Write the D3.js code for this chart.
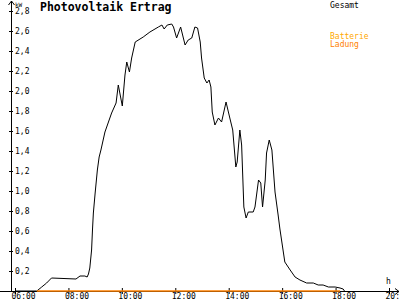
<!DOCTYPE html>
<html>
<head>
<meta charset="utf-8">
<script src="https://cdn.jsdelivr.net/npm/d3@7"></script>
<style>
  body { margin: 0; background: #fff; }
  text { font-family: "DejaVu Sans Mono", monospace; }
</style>
</head>
<body>
<div id="paper"></div>
<script>
// photovoltaik ertrag - tageskurve, gesamt + batterie ladung

const times = ["06:00","06:49","07:00","07:11","07:22","08:17","08:26","08:37","08:42","08:45","08:48","08:52","08:54","08:56","09:00","09:05","09:09","09:13","09:22","09:37","09:47","09:52","10:01","10:07","10:11","10:17","10:22","10:30","10:48","11:03","11:22","11:30","11:35","11:42","11:52","11:56","12:03","12:12","12:22","12:29","12:37","12:44","12:50","12:56","12:59","13:05","13:11","13:16","13:20","13:23","13:29","13:37","13:44","13:54","14:03","14:09","14:16","14:19","14:25","14:29","14:34","14:39","14:44","14:55","14:59","15:07","15:12","15:16","15:22","15:25","15:31","15:37","15:44","15:51","15:55","16:01","16:06","16:18","16:29","16:40","16:55","17:10","17:21","17:32","17:44","17:59","18:10","18:17","18:20"];
const gesamt = [0,0,0.04,0.08,0.13,0.12,0.15,0.15,0.14,0.17,0.23,0.41,0.61,0.78,0.98,1.21,1.34,1.41,1.59,1.78,1.88,2.06,1.85,2.16,2.29,2.19,2.33,2.49,2.54,2.59,2.64,2.66,2.62,2.66,2.67,2.64,2.53,2.64,2.46,2.51,2.53,2.64,2.63,2.49,2.33,2.13,2.08,2.11,2.04,1.79,1.66,1.73,1.69,1.89,1.72,1.61,1.24,1.29,1.61,1.46,0.84,0.73,0.79,0.79,0.84,1.11,1.08,0.84,1.11,1.38,1.51,1.41,0.99,0.76,0.62,0.44,0.29,0.21,0.14,0.11,0.08,0.08,0.06,0.06,0.04,0.04,0.03,0.02,0];

const ladungTimes = ["06:49","18:10"];
const ladung = [0, 0];

const yTicks = [0.2,0.4,0.6,0.8,1.0,1.2,1.4,1.6,1.8,2.0,2.2,2.4,2.6,2.8];
const xTicks = ["06:00","08:00","10:00","12:00","14:00","16:00","18:00","20:00"];

let colourLine = "#000000";
let colourLadung = "#ff8000";
let colourBatterie = "#ffa800";

const toMin = (s) => {
  let p = s.split(":");
  return +p[0] * 60 + +p[1];
};

svg = d3
  .select("#paper")
  .append("svg")
  .attr("width", 400)
  .attr("height", 300)
  .style("display", "block");

const x = d3.scaleLinear().domain([360, 1200]).range([15, 389]);
const y = d3.scaleLinear().domain([0, 2.8]).range([291, 11]);

// y axis
svg
  .append("g")
  .attr("transform", "translate(11,0)")
  .call(
    d3
      .axisRight(y)
      .tickValues(yTicks)
      .tickSize(2)
      .tickPadding(2)
      .tickFormat((d) => d3.format(".1f")(d).replace(".", ","))
  )
  .call((g) => g.select(".domain").remove())
  .call((g) => g.selectAll(".tick line").attr("x1", -2).attr("stroke", colourLine))
  .call((g) =>
    g
      .selectAll(".tick text")
      .attr("font-family", "DejaVu Sans Mono, monospace")
      .attr("font-size", 8)
      .attr("fill", colourLine)
  );

// x axis
svg
  .append("g")
  .attr("transform", "translate(0,291)")
  .call(
    d3
      .axisBottom(x)
      .tickValues(xTicks.map(toMin))
      .tickSize(3)
      .tickFormat((d, i) => xTicks[i])
  )
  .call((g) => g.select(".domain").remove())
  .call((g) => g.selectAll(".tick line").attr("y1", -3).attr("stroke", colourLine))
  .call((g) =>
    g
      .selectAll(".tick text")
      .attr("font-family", "DejaVu Sans Mono, monospace")
      .attr("font-size", 8)
      .attr("text-anchor", "start")
      .attr("x", -4)
      .attr("y", 8)
      .attr("dy", 0)
      .attr("fill", colourLine)
  );

// axis lines with arrows
svg
  .append("path")
  .attr("d", "M11.5,292V1M8.5,5L11.5,1L14.5,5")
  .attr("fill", "none")
  .attr("stroke", colourLine);
svg
  .append("path")
  .attr("d", "M0,291.5H399M395,288.5L399,291.5L395,294.5")
  .attr("fill", "none")
  .attr("stroke", colourLine);

svg.append("text").attr("x", 15).attr("y", 7).attr("font-size", 6).text("kW");
svg.append("text").attr("x", 386).attr("y", 284).attr("font-size", 8).text("h");

// curves
const line = d3
  .line()
  .x((d) => x(toMin(d.t)))
  .y((d) => y(d.v));

const gesamtData = times.map((t, i) => ({ t: t, v: gesamt[i] }));
const ladungData = ladungTimes.map((t, i) => ({ t: t, v: ladung[i] }));

svg
  .append("path")
  .datum(gesamtData)
  .attr("d", line)
  .attr("fill", "none")
  .attr("stroke", colourLine)
  .attr("stroke-width", 1);

svg
  .append("path")
  .datum(ladungData)
  .attr("d", line)
  .attr("fill", "none")
  .attr("stroke", colourLadung)
  .attr("stroke-width", 1.5);

// title + legend
svg
  .append("text")
  .attr("x", 40)
  .attr("y", 11)
  .attr("font-size", 11.5)
  .attr("font-weight", "bold")
  .text("Photovoltaik Ertrag");

svg.append("text").attr("x", 330).attr("y", 8).attr("font-size", 8).text("Gesamt");
svg
  .append("text")
  .attr("x", 330)
  .attr("y", 39)
  .attr("font-size", 8)
  .attr("fill", colourBatterie)
  .text("Batterie");
svg
  .append("text")
  .attr("x", 330)
  .attr("y", 47)
  .attr("font-size", 8)
  .attr("fill", colourLadung)
  .text("Ladung");
</script>
</body>
</html>
